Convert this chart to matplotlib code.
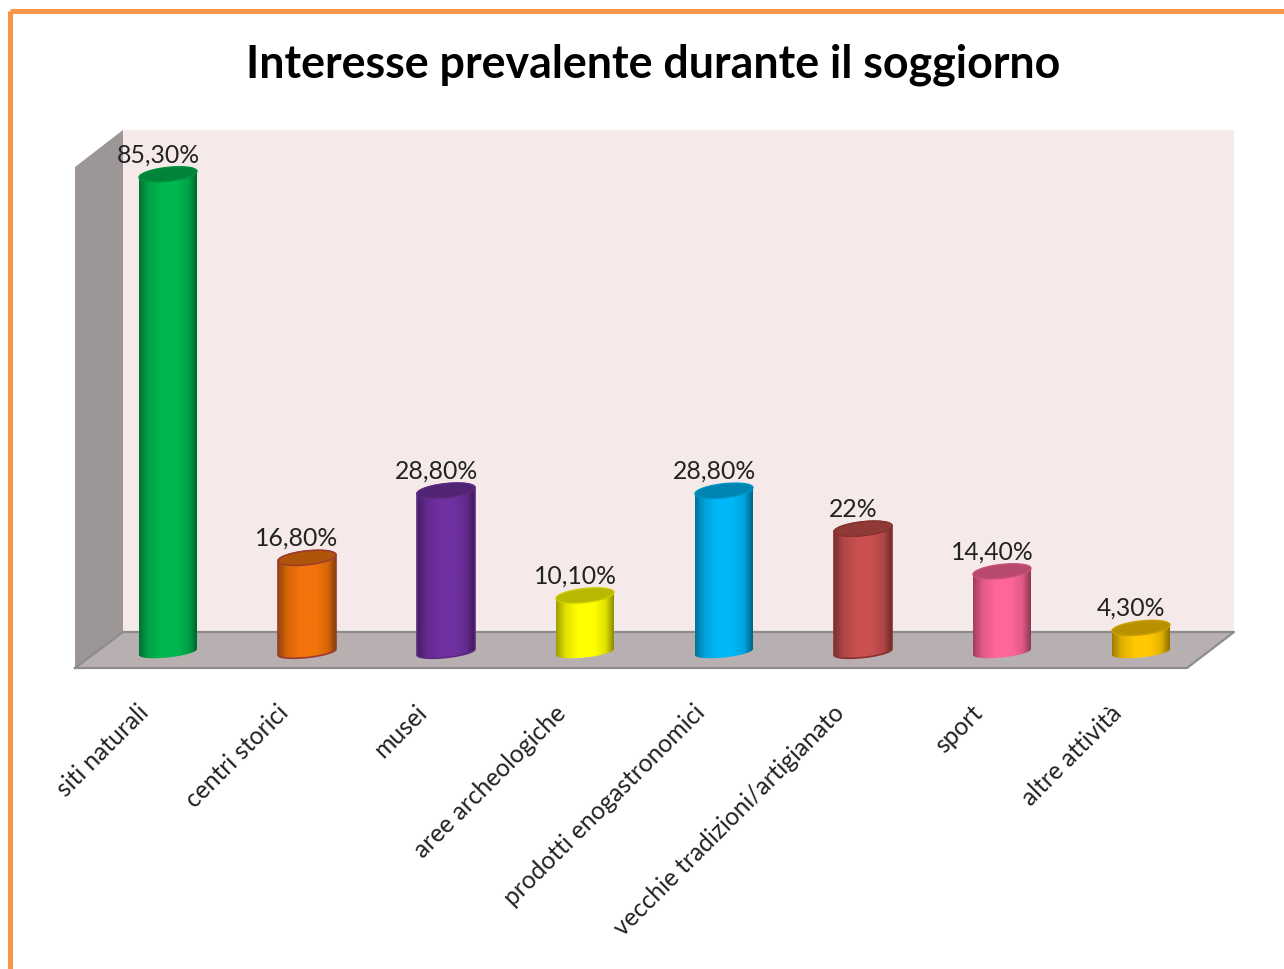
#!/usr/bin/env python3
"""Interesse prevalente durante il soggiorno: PowerPoint style cylinder chart."""
import matplotlib

matplotlib.use("Agg")
import matplotlib.pyplot as plt
import numpy as np
from matplotlib.colors import LinearSegmentedColormap, to_rgb
from matplotlib.patches import Polygon, Rectangle
from matplotlib.transforms import ScaledTranslation

TITLE = "Interesse prevalente durante il soggiorno"
CATEGORIES = [
    "siti naturali",
    "centri storici",
    "musei",
    "aree archeologiche",
    "prodotti enogastronomici",
    "vecchie tradizioni/artigianato",
    "sport",
    "altre attività",
]
VALUES = [85.3, 16.8, 28.8, 10.1, 28.8, 22.0, 14.4, 4.3]
VALUE_LABELS = ["85,30%", "16,80%", "28,80%", "10,10%", "28,80%", "22%", "14,40%", "4,30%"]
COLORS = ["#00B850", "#F4740C", "#7030A0", "#FFFF00", "#00B8F6", "#C8504E", "#FF6699", "#FFC800"]
OUTLINES = [None, "#9A3A30", "#5A2A80", None, None, "#8A3030", None, None]

W, H = 1284, 969
PX_PER_UNIT = 5.6
BASE_PX = 652
LEFT_PX, STEP_PX = 168, 139
ORANGE = "#F79646"

plt.rcParams["font.family"] = ["Lato", "DejaVu Sans"]
fig = plt.figure(figsize=(W / 100, H / 100), dpi=100, facecolor="white")

# chart chrome, in pixel coordinates
bg = fig.add_axes([0, 0, 1, 1])
bg.set_xlim(0, W)
bg.set_ylim(H, 0)
bg.axis("off")
bg.add_patch(Rectangle((9.5, 10.5), W + 50, H + 50, fc="none", ec=ORANGE, lw=3.6))
bg.add_patch(Rectangle((123, 130), 1111, 502, fc="#F5E9E9", ec="none"))
bg.add_patch(Polygon([(75, 167), (123, 130), (123, 632), (75, 668)], fc="#9C9696", ec="none"))
bg.add_patch(Polygon([(75, 668), (123, 632), (1234, 632), (1187, 668)], fc="#B8B0B0", ec="none"))
bg.plot([75, 123, 1234, 1187, 75], [668, 632, 632, 668, 668], color="#8C8C8C", lw=1.6)
bg.text(653, 65, TITLE, ha="center", va="center", fontsize=32.25, fontweight="bold", color="black")

# data axes: x in categories, y in percent
y_min, y_max = -10, 90
ax_left = LEFT_PX - STEP_PX / 2
ax_right = LEFT_PX + 7.5 * STEP_PX
ax_bottom = BASE_PX - y_min * PX_PER_UNIT
ax_top = BASE_PX - y_max * PX_PER_UNIT
ax = fig.add_axes([ax_left / W, 1 - ax_bottom / H, (ax_right - ax_left) / W, (ax_bottom - ax_top) / H])
ax.patch.set_alpha(0)
for spine in ax.spines.values():
    spine.set_visible(False)
ax.set_yticks([])

half_w = 29 / STEP_PX
top_h = 7 / PX_PER_UNIT
base_h = 5.5 / PX_PER_UNIT
tilt = 3 / PX_PER_UNIT
t = np.linspace(0, 2 * np.pi, 121)


def ellipse_points(xc, yc, tt, h):
    return np.column_stack([xc + half_w * np.cos(tt), yc + h * np.sin(tt) + tilt * np.cos(tt)])


def shade(color, factor):
    return tuple(c * factor for c in to_rgb(color))


for i, (val, color, outline) in enumerate(zip(VALUES, COLORS, OUTLINES)):
    lower = ellipse_points(i, 0, np.linspace(np.pi, 2 * np.pi, 61), base_h)
    upper = ellipse_points(i, val, np.linspace(0, np.pi, 61), top_h)
    body = Polygon(np.vstack([lower, upper]), closed=True, fc="none", ec=outline or "none", lw=1.2, zorder=3)
    ax.add_patch(body)
    cmap = LinearSegmentedColormap.from_list(
        "cyl",
        [
            (0.0, shade(color, 0.62)),
            (0.16, shade(color, 0.88)),
            (0.38, color),
            (0.66, color),
            (0.86, shade(color, 0.88)),
            (1.0, shade(color, 0.55)),
        ],
    )
    im = ax.imshow(
        np.linspace(0, 1, 128)[None, :],
        extent=(i - half_w, i + half_w, -2, val + 2),
        cmap=cmap,
        aspect="auto",
        zorder=2,
    )
    im.set_clip_path(body)
    top = Polygon(ellipse_points(i, val, t, top_h), closed=True, fc=shade(color, 0.72), ec=outline or shade(color, 0.8), lw=1, zorder=4)
    ax.add_patch(top)
    ax.annotate(
        VALUE_LABELS[i],
        xy=(i, val),
        xytext=(-10, 19.5),
        textcoords="offset pixels",
        ha="center",
        va="center",
        fontsize=17.8,
        color="#222222",
        zorder=5,
    )

ax.set_xlim(-0.5, 7.5)
ax.set_ylim(y_min, y_max)
ax.set_xticks(range(len(CATEGORIES)), CATEGORIES, rotation=45, ha="right", rotation_mode="anchor", fontsize=17.7, color="#222222")
ax.tick_params(axis="x", length=0, pad=0)
offset = ScaledTranslation(-31 / 100, 7 / 100, fig.dpi_scale_trans)
for label in ax.get_xticklabels():
    label.set_transform(label.get_transform() + offset)

fig.savefig("out.png", dpi=100)
